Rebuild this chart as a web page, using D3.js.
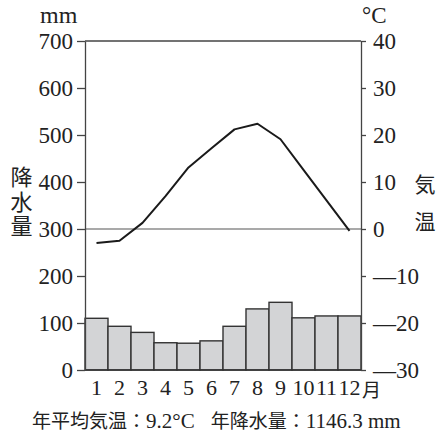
<!DOCTYPE html>
<html>
<head>
<meta charset="utf-8">
<script src="https://cdn.jsdelivr.net/npm/d3@7"></script>
<style>
  body { margin: 0; background: #fff; }
  svg text { fill: #222; }
  .serif { font-family: 'Liberation Serif', 'DejaVu Serif', serif; }
  .cjk { font-family: 'Noto Sans CJK JP', 'Noto Sans CJK SC', sans-serif; }
  .vert { writing-mode: vertical-rl; text-orientation: upright; }
</style>
</head>
<body>
<svg id="chart" width="438" height="438"></svg>
<script>
// Monthly climate data
const months = ['1', '2', '3', '4', '5', '6', '7', '8', '9', '10', '11', '12'];
const precipitation = [110, 93, 80, 58, 57, 62, 93, 130, 144, 111, 115, 115];
const temperature = [-3.0, -2.5, 1.3, 7.0, 13.1, 17.2, 21.2, 22.4, 19.1, 12.6, 6.1, -0.4];
const precipTicks = [0, 100, 200, 300, 400, 500, 600, 700];
const tempTicks = [-30, -20, -10, 0, 10, 20, 30, 40];

const svg = d3.select('#chart');

// Plot area
const plotLeft = 85, plotRight = 361, plotTop = 41, plotBottom = 370;

const x = d3.scaleBand().domain(months).range([plotLeft, plotRight]).padding(0);
const yP = d3.scaleLinear().domain([0, 700]).range([plotBottom, plotTop]);
const yT = d3.scaleLinear().domain([-30, 40]).range([plotBottom, plotTop]);

// Bars
svg.append('g')
  .selectAll('rect')
  .data(precipitation)
  .enter()
  .append('rect')
  .attr('x', (d, i) => x(months[i]))
  .attr('y', d => yP(d))
  .attr('width', x.bandwidth())
  .attr('height', d => yP(0) - yP(d))
  .attr('fill', '#d3d4d6')
  .attr('stroke', '#333')
  .attr('stroke-width', 1.4);

// Top frame line, 0°C / 300 mm line, base line
[[yP(700), '#444', 1.3], [yT(0), '#555', 1.2], [yP(0), '#333', 1.4]].forEach(([y, c, w]) => {
  svg.append('line')
    .attr('x1', plotLeft).attr('x2', plotRight)
    .attr('y1', y).attr('y2', y)
    .attr('stroke', c).attr('stroke-width', w);
});

// Left axis (precipitation)
const leftAxis = d3.axisLeft(yP)
  .tickValues(precipTicks)
  .tickSize(8)
  .tickSizeOuter(0)
  .tickPadding(4);
const gl = svg.append('g').attr('transform', `translate(${plotLeft},0)`).call(leftAxis);
gl.attr('font-family', null).attr('font-size', null);
gl.selectAll('path, line').attr('stroke', '#444').attr('stroke-width', 1.3);
gl.selectAll('text').attr('class', 'serif').style('font-size', '23px').attr('fill', '#222');

// Right axis (temperature)
const rightAxis = d3.axisRight(yT)
  .tickValues(tempTicks)
  .tickSize(5)
  .tickSizeOuter(0)
  .tickPadding(7)
  .tickFormat(d => (d < 0 ? '\u2014' + (-d) : String(d)));
const gr = svg.append('g').attr('transform', `translate(${plotRight},0)`).call(rightAxis);
gr.attr('font-family', null).attr('font-size', null);
gr.selectAll('path, line').attr('stroke', '#444').attr('stroke-width', 1.3);
gr.selectAll('text').attr('class', 'serif').style('font-size', '23px').attr('fill', '#222');

// Temperature line
const line = d3.line()
  .x((d, i) => x(months[i]) + x.bandwidth() / 2)
  .y(d => yT(d));
svg.append('path')
  .datum(temperature)
  .attr('d', line)
  .attr('fill', 'none')
  .attr('stroke', '#1a1a1a')
  .attr('stroke-width', 2)
  .attr('stroke-linejoin', 'round');

// Month labels
svg.append('g')
  .selectAll('text')
  .data(months)
  .enter()
  .append('text')
  .attr('class', 'serif')
  .attr('x', d => x(d) + x.bandwidth() / 2)
  .attr('y', 395)
  .attr('text-anchor', 'middle')
  .style('font-size', '22px')
  .text(d => d);
svg.append('text')
  .attr('x', 362).attr('y', 397)
  .style('font-family', "'Liberation Serif', 'Noto Sans CJK JP', serif")
  .style('font-size', '19px')
  .text('月');

// Units
svg.append('text')
  .attr('class', 'serif')
  .attr('x', 40).attr('y', 23)
  .style('font-size', '24px')
  .text('mm');
svg.append('text')
  .attr('class', 'serif')
  .attr('x', 362).attr('y', 23)
  .style('font-size', '23px')
  .text('°C');

// Vertical axis titles
svg.append('text')
  .attr('class', 'cjk vert')
  .attr('x', 21.5).attr('y', 166)
  .style('font-size', '22px')
  .style('letter-spacing', '2.5px')
  .text('降水量');
['気', '温'].forEach((c, i) => {
  svg.append('text')
    .attr('class', 'cjk')
    .attr('x', 425).attr('y', [192, 229][i])
    .attr('text-anchor', 'middle')
    .style('font-size', '21px')
    .text(c);
});

// Annual summary
const summary = svg.append('text')
  .attr('x', 32).attr('y', 428)
  .style('font-size', '19px');
summary.append('tspan').attr('class', 'cjk').text('年平均気温：');
summary.append('tspan').attr('class', 'serif').style('font-size', '21px').text('9.2°C');
summary.append('tspan').attr('class', 'cjk').attr('dx', 16).text('年降水量：');
summary.append('tspan').attr('class', 'serif').style('font-size', '21px').text('1146.3 mm');
</script>
</body>
</html>
